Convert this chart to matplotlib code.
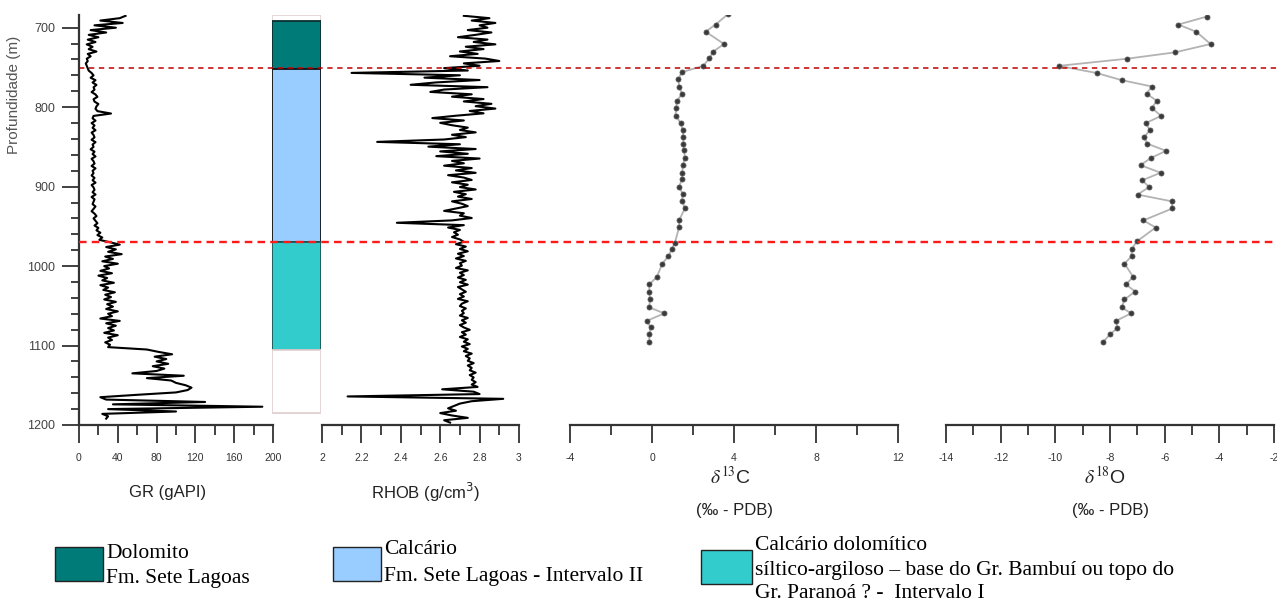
import numpy as np
import matplotlib
matplotlib.use("Agg")
import matplotlib.pyplot as plt
from matplotlib.patches import Rectangle
from matplotlib.ticker import MultipleLocator, FuncFormatter

# ---- data ----
# GR log (gAPI), sampled every ~3 m from 685 to 1192 m
gr_top, gr_base = 685, 1192
gr = [48, 42, 22, 45, 16, 38, 12, 28, 10, 20, 9, 17, 8, 14, 10, 18, 9, 12, 8, 9,
      7, 8, 9, 10, 13, 15, 12, 17, 14, 18, 15, 16, 13, 17, 19, 15, 16, 20, 18, 17,
      19, 33, 15, 14, 17, 13, 16, 14, 17, 13, 15, 16, 13, 17, 14, 15, 12, 16, 14, 17,
      13, 15, 16, 13, 17, 14, 15, 13, 16, 14, 17, 13, 15, 16, 14, 17, 13, 16, 15, 14,
      17, 15, 13, 16, 18, 15, 17, 19, 16, 20, 18, 22, 19, 24, 21, 32, 42, 28, 38, 30,
      44, 27, 35, 24, 40, 26, 31, 22, 34, 20, 29, 24, 36, 22, 30, 25, 37, 27, 33, 26,
      38, 29, 35, 28, 40, 30, 34, 22, 42, 28, 38, 30, 36, 26, 40, 30, 34, 27, 32, 30,
      70, 82, 96, 78, 90, 80, 92, 76, 88, 80, 55, 108, 70, 95, 100, 110, 116, 112, 100, 60,
      22, 28, 130, 35, 189, 30, 100, 24, 30, 28]

# RHOB log (g/cm3), sampled every ~3 m from 685 to 1197 m
rhob_top, rhob_base = 685, 1197
rhob = [2.72, 2.85, 2.76, 2.88, 2.80, 2.84, 2.74, 2.86, 2.78, 2.69, 2.84, 2.77, 2.88, 2.73, 2.82,
        2.70, 2.79, 2.65, 2.83, 2.90, 2.72, 2.80, 2.62, 2.74, 2.15, 2.70, 2.52, 2.80, 2.58, 2.45,
        2.84, 2.62, 2.55, 2.76, 2.66, 2.82, 2.72, 2.86, 2.78, 2.88, 2.75, 2.82, 2.68, 2.56, 2.72,
        2.60, 2.66, 2.74, 2.70, 2.78, 2.66, 2.73, 2.62, 2.28, 2.70, 2.54, 2.78, 2.60, 2.74, 2.58,
        2.80, 2.66, 2.72, 2.62, 2.76, 2.68, 2.78, 2.64, 2.72, 2.76, 2.66, 2.74, 2.70, 2.78, 2.67,
        2.73, 2.69, 2.76, 2.66, 2.71, 2.74, 2.68, 2.62, 2.72, 2.70, 2.76, 2.66, 2.38, 2.72, 2.64,
        2.70, 2.67, 2.69, 2.66, 2.70, 2.72, 2.68, 2.73, 2.70, 2.74, 2.69, 2.72, 2.68, 2.73, 2.70,
        2.71, 2.68, 2.74, 2.70, 2.72, 2.69, 2.73, 2.70, 2.74, 2.69, 2.71, 2.73, 2.70, 2.72, 2.69,
        2.74, 2.71, 2.70, 2.73, 2.71, 2.72, 2.70, 2.74, 2.71, 2.73, 2.70, 2.72, 2.75, 2.71, 2.73,
        2.70, 2.74, 2.72, 2.75, 2.71, 2.74, 2.72, 2.76, 2.73, 2.75, 2.74, 2.77, 2.74, 2.76, 2.75,
        2.78, 2.75, 2.77, 2.76, 2.78, 2.76, 2.79, 2.61, 2.77, 2.80, 2.13, 2.92, 2.76, 2.70, 2.67,
        2.64, 2.68, 2.60, 2.66, 2.74, 2.62, 2.65]

# carbon isotopes
c13_depth = [683, 696, 705, 720.5, 730, 738.5, 748, 756, 765, 774, 783, 792, 801, 810.5, 820,
             828.5, 838, 846, 854.5, 864, 873, 882.5, 891, 900.5, 909, 918.5, 927, 942.5, 951,
             970.5, 979, 987.5, 997, 1013.5, 1023, 1032, 1041, 1052, 1059.5, 1069, 1077, 1086, 1095]
c13 = [3.7, 3.1, 2.62, 3.51, 2.99, 2.80, 2.5, 1.45, 1.28, 1.33, 1.46, 1.23, 1.17, 1.15, 1.40,
       1.50, 1.53, 1.53, 1.56, 1.61, 1.50, 1.48, 1.45, 1.32, 1.50, 1.46, 1.61, 1.32, 1.32,
       1.12, 0.96, 0.80, 0.50, 0.24, -0.13, -0.13, -0.10, -0.13, 0.60, -0.26, -0.06, -0.13, -0.13]

# oxygen isotopes
o18_depth = [686, 696, 705, 720.5, 731, 739, 748, 757, 766, 774, 783, 792, 801, 811, 820, 829,
             838, 846, 855, 864, 873, 882.5, 892, 900.5, 910, 918.5, 927.5, 942.5, 951.5, 969,
             979, 987.5, 997, 1013.5, 1023, 1032, 1042, 1052, 1059.5, 1069, 1078, 1086, 1095]
o18 = [-4.46, -5.50, -4.85, -4.32, -5.62, -7.37, -9.87, -8.49, -7.57, -6.47, -6.66, -6.29, -6.47,
       -6.13, -6.69, -6.54, -6.76, -6.63, -5.95, -6.51, -6.88, -6.15, -6.82, -6.57, -6.99, -5.74,
       -5.72, -6.78, -6.33, -7.02, -7.21, -7.21, -7.47, -7.15, -7.42, -7.08, -7.47, -7.57, -7.23,
       -7.78, -7.73, -8.0, -8.24]

# lithology column
litho_top = [692, 752, 970, 1105]
litho_base = [752, 970, 1105, 1185]
litho_color = ['#007b78', '#99ccff', '#33cccc', 'white']
litho_edge = ['#0b2f2f', '#111111', '#1d5656', '#e2d2d2']

boundaries = [751, 970]

legend_items = [
    ('#007b78', ['Dolomito', 'Fm. Sete Lagoas']),
    ('#99ccff', ['Calcário', 'Fm. Sete Lagoas - Intervalo II']),
    ('#33cccc', ['Calcário dolomítico',
                 'síltico-argiloso – base do Gr. Bambuí ou topo do',
                 'Gr. Paranoá ? -  Intervalo I']),
]

# ---- layout (pixel based) ----
W, H = 1277, 604
Y_TOP, Y_BOT = 15, 425
DEPTH_LIM = (1200, 684)
AX_COL = '#333333'

fig = plt.figure(figsize=(W / 100, H / 100), dpi=100)
plt.rcParams['font.family'] = ['Liberation Sans', 'DejaVu Sans']


def track(x0, x1):
    ax = fig.add_axes([x0 / W, (H - Y_BOT) / H, (x1 - x0) / W, (Y_BOT - Y_TOP) / H])
    ax.set_ylim(*DEPTH_LIM)
    ax.patch.set_alpha(0)
    for s in ['top', 'right', 'left']:
        ax.spines[s].set_visible(False)
    ax.spines['bottom'].set_color(AX_COL)
    ax.spines['bottom'].set_linewidth(1.6)
    ax.tick_params(axis='x', which='major', direction='out', length=13, width=1.3,
                   color=AX_COL, labelsize=7.5, labelcolor='#333333', pad=7)
    ax.tick_params(axis='x', which='minor', direction='out', length=7, width=1.3, color=AX_COL)
    ax.set_yticks([])
    return ax


fmt = FuncFormatter(lambda v, p: '%g' % round(v, 2))

# GR track (carries the depth axis)
ax_gr = track(79, 273)
ax_gr.spines['left'].set_visible(True)
ax_gr.spines['left'].set_color(AX_COL)
ax_gr.spines['left'].set_linewidth(1.6)
ax_gr.plot(gr, np.linspace(gr_top, gr_base, len(gr)), color='black', lw=1.5)
ax_gr.set_xlim(0, 200)
ax_gr.xaxis.set_major_locator(MultipleLocator(40))
ax_gr.xaxis.set_minor_locator(MultipleLocator(20))
ax_gr.xaxis.set_major_formatter(fmt)
ax_gr.set_yticks(np.arange(700, 1201, 100))
ax_gr.yaxis.set_minor_locator(MultipleLocator(20))
ax_gr.tick_params(axis='y', which='major', length=12, width=1.3, color=AX_COL,
                  labelsize=9, labelcolor='#444444', pad=5)
ax_gr.tick_params(axis='y', which='minor', length=6, width=1.3, color=AX_COL)

# lithology column
ax_lit = fig.add_axes([272 / W, (H - Y_BOT) / H, 49 / W, (Y_BOT - Y_TOP) / H])
ax_lit.set_ylim(*DEPTH_LIM)
ax_lit.set_xlim(0, 1)
ax_lit.axis('off')
ax_lit.bar(0.5, 1185 - 684, bottom=684, width=1, color='white', edgecolor='#e2d2d2', lw=1.2)
for t, b, c, e in zip(litho_top, litho_base, litho_color, litho_edge):
    ax_lit.bar(0.5, b - t, bottom=t, width=1, color=c, edgecolor=e, lw=1.3)

# RHOB track
ax_rh = track(322, 519)
ax_rh.plot(rhob, np.linspace(rhob_top, rhob_base, len(rhob)), color='black', lw=1.5)
ax_rh.set_xlim(2, 3)
ax_rh.xaxis.set_major_locator(MultipleLocator(0.2))
ax_rh.xaxis.set_minor_locator(MultipleLocator(0.1))
ax_rh.xaxis.set_major_formatter(fmt)

# d13C track
ax_c = track(570, 898)
ax_c.plot(c13, c13_depth, color='#b3b3b3', lw=1.3, marker='o', ms=3.6,
          mfc='#3a3a3a', mec='#555555', mew=0.6)
ax_c.set_xlim(-4, 12)
ax_c.xaxis.set_major_locator(MultipleLocator(4))
ax_c.xaxis.set_minor_locator(MultipleLocator(2))
ax_c.xaxis.set_major_formatter(fmt)

# d18O track
ax_o = track(946, 1274)
ax_o.plot(o18, o18_depth, color='#b3b3b3', lw=1.3, marker='o', ms=3.6,
          mfc='#3a3a3a', mec='#555555', mew=0.6)
ax_o.set_xlim(-14, -2)
ax_o.xaxis.set_major_locator(MultipleLocator(2))
ax_o.xaxis.set_minor_locator(MultipleLocator(1))
ax_o.xaxis.set_major_formatter(fmt)

# boundary lines across all tracks
ax_ln = fig.add_axes([79 / W, (H - Y_BOT) / H, (W - 79) / W, (Y_BOT - Y_TOP) / H])
ax_ln.set_ylim(*DEPTH_LIM)
ax_ln.axis('off')
ax_ln.axhline(boundaries[0], color='#c00000', lw=1.1, dashes=(3.5, 3))
ax_ln.axhline(boundaries[1], color='#ff1a1a', lw=1.7, dashes=(3.2, 2.2))


def ftext(x, y, s, **kw):
    fig.text(x / W, 1 - y / H, s, **kw)


# axis titles
ftext(168, 492, 'GR (gAPI)', ha='center', va='center', fontsize=12, color='#222222')
ftext(425, 492, 'RHOB (g/cm$^3$)', ha='center', va='center', fontsize=12, color='#222222')
ftext(730, 477, r'$\delta^{13}$C', ha='center', va='center', fontsize=14, color='#222222',
      math_fontfamily='stix')
ftext(735, 510, '(‰ - PDB)', ha='center', va='center', fontsize=12, color='#222222')
ftext(1105, 477, r'$\delta^{18}$O', ha='center', va='center', fontsize=14, color='#222222',
      math_fontfamily='stix')
ftext(1110, 510, '(‰ - PDB)', ha='center', va='center', fontsize=12, color='#222222')
ftext(14, 95, 'Profundidade (m)', ha='center', va='center', rotation=90, fontsize=11,
      color='#555555')

# legend
boxes = [(55, 547, 48, 34), (333, 547, 48, 34), (701, 550, 51, 34)]
text_y = [[553, 578], [550, 576], [545, 570, 594]]
for (bx, by, bw, bh), (col, lines), ys in zip(boxes, legend_items, text_y):
    fig.add_artist(Rectangle((bx / W, 1 - (by + bh) / H), bw / W, bh / H,
                             transform=fig.transFigure, facecolor=col,
                             edgecolor='#222222', lw=1.0))
    for s, yy in zip(lines, ys):
        ftext(bx + bw + 3, yy, s, ha='left', va='center', fontsize=15.5,
              family='Liberation Serif', color='black')

fig.savefig('out.png', dpi=100)
